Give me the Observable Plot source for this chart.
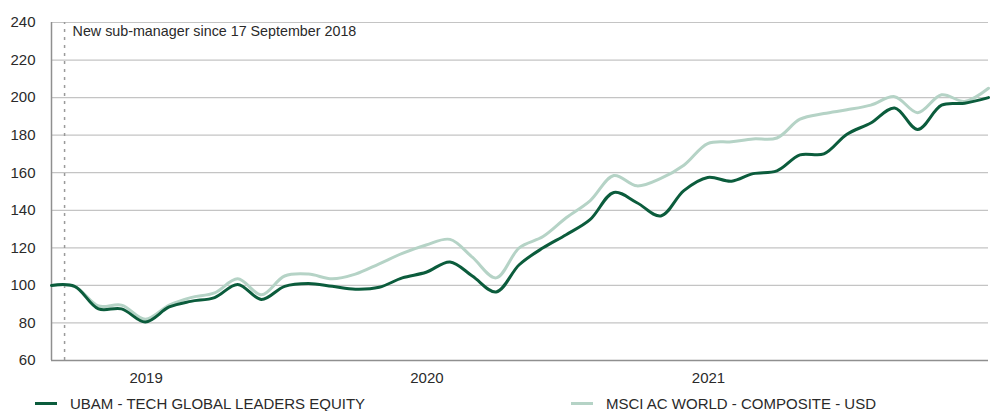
<!DOCTYPE html>
<html>
<head>
<meta charset="utf-8">
<script src="https://cdn.jsdelivr.net/npm/d3@7"></script>
<script src="https://cdn.jsdelivr.net/npm/@observablehq/plot@0.6"></script>
<style>
  body { margin: 0; background: #fff; font-family: "Liberation Sans", Arial, sans-serif; }
  #legend { position: relative; height: 19px; width: 994px; font-size: 15px; color: #2a2a2a; }
  .item { position: absolute; top: 2px; display: flex; align-items: center; height: 19px; }
  .sw { width: 22px; height: 3px; margin-right: 13px; }
</style>
</head>
<body>
<div id="chart"></div>
<div id="legend"></div>
<script>
const months = [
  "2018-08-31","2018-09-30","2018-10-31","2018-11-30","2018-12-31",
  "2019-01-31","2019-02-28","2019-03-31","2019-04-30","2019-05-31","2019-06-30",
  "2019-07-31","2019-08-31","2019-09-30","2019-10-31","2019-11-30","2019-12-31",
  "2020-01-31","2020-02-29","2020-03-31","2020-04-30","2020-05-31","2020-06-30",
  "2020-07-31","2020-08-31","2020-09-30","2020-10-31","2020-11-30","2020-12-31",
  "2021-01-31","2021-02-28","2021-03-31","2021-04-30","2021-05-31","2021-06-30",
  "2021-07-31","2021-08-31","2021-09-30","2021-10-31","2021-11-30","2021-12-31"
];
const fundValues = [
  100, 99.5, 87.5, 87.5, 80.5,
  88.5, 91.5, 93.5, 100.5, 92.5, 99.5,
  101, 99.5, 98, 99, 104, 107,
  112.5, 105, 96.5, 111, 120, 127,
  135, 149.5, 144, 137, 150.5, 157.5,
  155.5, 159.5, 161, 169.5, 170, 180.5,
  186.5, 194.5, 183, 196, 197, 200
];
const benchValues = [
  100, 99.5, 89, 89.5, 82,
  89.5, 93.5, 96, 103.5, 95, 105,
  106, 103.5, 106, 111.5, 117, 121.5,
  124.5, 115, 104, 120, 126, 136,
  145, 158.5, 153, 157, 164, 175.5,
  176.5, 178, 178.5, 188.5, 191.5, 193.5,
  196, 200.5, 192, 201.5, 198, 205
];
const seriesNames = ["UBAM - TECH GLOBAL LEADERS EQUITY", "MSCI AC WORLD - COMPOSITE - USD"];
const seriesColors = ["#0b5c3c", "#b5d3c6"];
const yTicks = [60, 80, 100, 120, 140, 160, 180, 200, 220, 240];
const xTicks = ["2019-01-01", "2020-01-01", "2021-01-01"];
const xTickLabels = ["2019", "2020", "2021"];
const eventDate = "2018-09-17";
const eventLabel = "New sub-manager since 17 September 2018";

const parse = d3.utcParse("%Y-%m-%d");
const fund = months.map((m, i) => ({date: parse(m), value: fundValues[i]}));
const bench = months.map((m, i) => ({date: parse(m), value: benchValues[i]}));
const xTickDates = xTicks.map(parse);

const font = "'Liberation Sans', Arial, sans-serif";

const chart = Plot.plot({
  width: 994,
  height: 392,
  marginTop: 22,
  marginBottom: 32,
  marginLeft: 51,
  marginRight: 6,
  style: {fontFamily: font, fontSize: "15px", color: "#2a2a2a", background: "#fff"},
  x: {type: "utc", domain: [parse("2018-08-31"), parse("2021-12-31")], axis: null},
  y: {domain: [60, 240], axis: null},
  marks: [
    Plot.ruleY(yTicks.filter(t => t > 60), {stroke: "#c4c4c4", strokeWidth: 1.2}),
    Plot.ruleY([60], {stroke: "#8f8f8f", strokeWidth: 1.5}),
    Plot.ruleX([parse("2018-08-31")], {y1: 60, y2: 240, stroke: "#8f8f8f", strokeWidth: 1.5}),
    Plot.ruleX([parse(eventDate)], {y1: 60, y2: 240, stroke: "#9a9a9a", strokeWidth: 1.5, strokeDasharray: "3,5"}),
    Plot.text([eventLabel], {x: parse(eventDate), y: 240, dx: 8, dy: 9, textAnchor: "start", fontSize: 14.3, fill: "#2a2a2a"}),
    Plot.text(yTicks, {x: parse("2018-08-31"), y: d => d, text: d => String(d), dx: -16, textAnchor: "end", fontSize: 15, fill: "#2a2a2a"}),
    Plot.text(xTickDates, {x: d => d, y: 60, text: (d, i) => xTickLabels[i], dy: 18, fontSize: 15, fill: "#2a2a2a"}),
    Plot.line(bench, {x: "date", y: "value", stroke: seriesColors[1], strokeWidth: 3, curve: "catmull-rom"}),
    Plot.line(fund, {x: "date", y: "value", stroke: seriesColors[0], strokeWidth: 3, curve: "catmull-rom"})
  ]
});
document.getElementById("chart").appendChild(chart);

const legend = document.getElementById("legend");
const lefts = [35, 571];
seriesNames.forEach((name, i) => {
  const item = document.createElement("div");
  item.className = "item";
  item.style.left = lefts[i] + "px";
  const sw = document.createElement("span");
  sw.className = "sw";
  sw.style.background = seriesColors[i];
  const t = document.createElement("span");
  t.textContent = name;
  item.appendChild(sw);
  item.appendChild(t);
  legend.appendChild(item);
});
</script>
</body>
</html>
